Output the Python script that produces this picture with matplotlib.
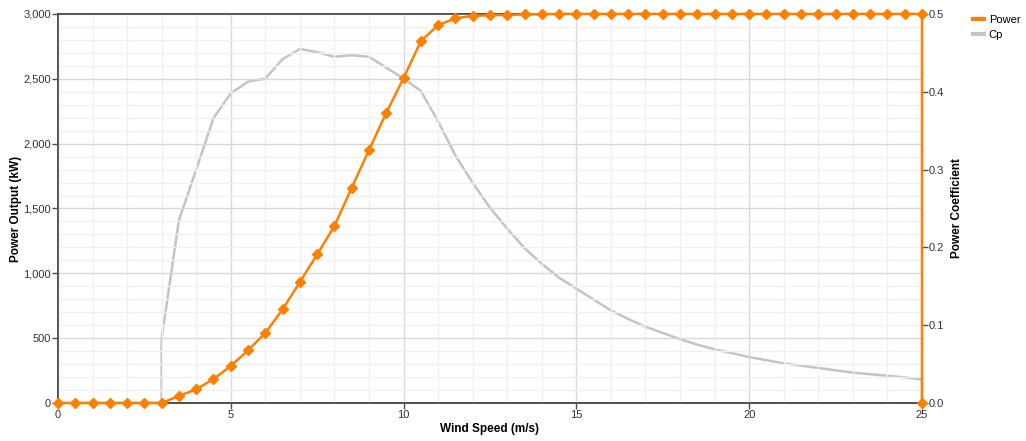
import matplotlib
matplotlib.use("Agg")
import matplotlib.pyplot as plt
import numpy as np
from matplotlib.lines import Line2D
from matplotlib.ticker import MultipleLocator, FuncFormatter

plt.rcParams["font.family"] = ["Liberation Sans", "DejaVu Sans"]

# wind speed (m/s) - two points at 25 because the curve drops to 0 at cut-out
wind = [0, 0.5, 1, 1.5, 2, 2.5, 3, 3.5, 4, 4.5, 5, 5.5, 6, 6.5, 7, 7.5, 8, 8.5,
        9, 9.5, 10, 10.5, 11, 11.5, 12, 12.5, 13, 13.5, 14, 14.5, 15, 15.5, 16,
        16.5, 17, 17.5, 18, 18.5, 19, 19.5, 20, 20.5, 21, 21.5, 22, 22.5, 23,
        23.5, 24, 24.5, 25, 25]
power = [0, 0, 0, 0, 0, 0, 0, 54, 105, 185, 285, 406, 540, 722, 933, 1146,
         1365, 1660, 1951, 2238, 2505, 2791, 2914, 2966, 2986, 2990, 2993, 2996,
         2998, 3000, 3000, 3000, 3000, 3000, 3000, 3000, 3000, 3000, 3000, 3000,
         3000, 3000, 3000, 3000, 3000, 3000, 3000, 3000, 3000, 3000, 3000, 0]

# power coefficient (jumps up at cut-in 3 m/s, drops to 0 at 25 m/s)
cp_wind = [0, 0.5, 1, 1.5, 2, 2.5, 3, 3, 3.5, 4, 4.5, 5, 5.5, 6, 6.5, 7, 7.5,
           8, 8.5, 9, 9.5, 10, 10.5, 11, 11.5, 12, 12.5, 13, 13.5, 14, 14.5,
           15, 15.5, 16, 16.5, 17, 17.5, 18, 18.5, 19, 19.5, 20, 20.5, 21,
           21.5, 22, 22.5, 23, 23.5, 24, 24.5, 25, 25]
cp = [0, 0, 0, 0, 0, 0, 0, 0.083, 0.235, 0.300, 0.366, 0.398, 0.413, 0.417,
      0.442, 0.455, 0.451, 0.445, 0.447, 0.445, 0.431, 0.417, 0.401, 0.362,
      0.318, 0.283, 0.251, 0.224, 0.199, 0.179, 0.161, 0.147, 0.133, 0.119,
      0.108, 0.098, 0.090, 0.082, 0.075, 0.069, 0.064, 0.059, 0.055, 0.051,
      0.048, 0.045, 0.042, 0.039, 0.037, 0.035, 0.033, 0.030, 0]

orange = "#ff8000"
grey = "#c4c4c4"
dark = "#4d4d4d"

fig = plt.figure(figsize=(10.26, 4.41), dpi=100)
ax = fig.add_axes([0.0565, 0.0862, 0.8421, 0.8821])
ax2 = ax.twinx()

# Cp behind, power in front
ax.set_zorder(ax2.get_zorder() + 1)
ax.patch.set_visible(False)

ax2.plot(cp_wind, cp, color=grey, lw=1.8, clip_on=False, zorder=3)
ax.plot(wind, power, color=orange, lw=1.8, marker="D", ms=5.5,
        clip_on=False, zorder=3)

ax.set_xlim(0, 25)
ax.set_ylim(0, 3000)
ax2.set_ylim(0, 0.5)

ax.xaxis.set_major_locator(MultipleLocator(5))
ax.xaxis.set_minor_locator(MultipleLocator(1))
ax.yaxis.set_major_locator(MultipleLocator(500))
ax.yaxis.set_minor_locator(MultipleLocator(100))
ax2.yaxis.set_major_locator(MultipleLocator(0.1))
ax.yaxis.set_major_formatter(FuncFormatter(lambda v, p: "{:,}".format(int(v))))
ax2.yaxis.set_major_formatter(FuncFormatter(lambda v, p: "%.1f" % v))

ax.grid(which="major", color="#d9d9d9", lw=1)
ax.grid(which="minor", color="#f0f0f0", lw=1)

for a in (ax, ax2):
    for s in a.spines.values():
        s.set_color(dark)
        s.set_linewidth(1.2)
    a.tick_params(which="major", length=4, width=1, color=dark,
                  labelsize=8, labelcolor="#333333", pad=1)
    a.tick_params(which="minor", length=0)

ax.set_xlabel("Wind Speed (m/s)", fontsize=8.5, fontweight="bold", labelpad=2)
ax.set_ylabel("Power Output (kW)", fontsize=8.5, fontweight="bold", labelpad=1)
ax2.set_ylabel("Power Coefficient", fontsize=8.5, fontweight="bold", labelpad=5)

handles = [Line2D([], [], color=orange, lw=3), Line2D([], [], color=grey, lw=3)]
fig.legend(handles, ["Power", "Cp"], loc="upper left",
           bbox_to_anchor=(0.942, 0.981), frameon=False, fontsize=8,
           handlelength=1.0, handletextpad=0.4, labelspacing=0.45,
           borderaxespad=0.2)

fig.savefig("out.png", dpi=100)
